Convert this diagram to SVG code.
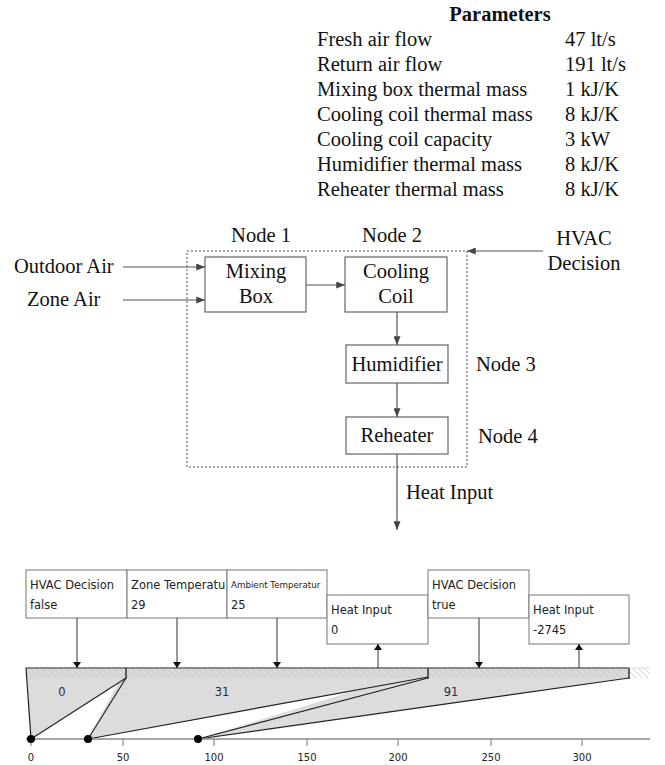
<svg xmlns="http://www.w3.org/2000/svg" width="665" height="765" viewBox="0 0 665 765">
<style>
.t{font-family:"Liberation Serif","Times New Roman",serif;font-size:20.5px;fill:#111}
.tb{font-family:"Liberation Serif","Times New Roman",serif;font-size:20.5px;font-weight:bold;fill:#111}
.box{fill:#fff;stroke:#666;stroke-width:1.2}
.flow{stroke:#555;stroke-width:1.2;fill:none}
.ev{fill:#fff;stroke:#777;stroke-width:1}
.s{font-family:"DejaVu Sans",Verdana,sans-serif;font-size:11.5px;fill:#222}
.ss{font-family:"DejaVu Sans",Verdana,sans-serif;font-size:8.7px;fill:#222}
.ax{font-family:"DejaVu Sans",Verdana,sans-serif;font-size:10px;fill:#222}
.lab{font-family:"DejaVu Sans",Verdana,sans-serif;font-size:11.5px;fill:#2a2a44}
.evl{stroke:#333;stroke-width:1;fill:none}
.tl{stroke:#222;stroke-width:1.2;fill:none}
.gray{fill:#dcdcdc;stroke:none}
</style>
<defs>
<marker id="ah" viewBox="0 0 10 8" refX="10" refY="4" markerWidth="9" markerHeight="7" orient="auto" markerUnits="userSpaceOnUse">
<path d="M0,0 L10,4 L0,8 z" fill="#444"/>
</marker>
<marker id="ah2" viewBox="0 0 6 8" refX="6" refY="4" markerWidth="6" markerHeight="8" orient="auto" markerUnits="userSpaceOnUse">
<path d="M0,0 L6,4 L0,8 z" fill="#111"/>
</marker>
<pattern id="hatch" patternUnits="userSpaceOnUse" width="6" height="6">
<rect width="6" height="6" fill="#d4d4d4"/>
<path d="M0,0 L6,6 M-1,5 L1,7 M5,-1 L7,1" stroke="#e4e4e4" stroke-width="1"/>
</pattern>
<pattern id="hatchw" patternUnits="userSpaceOnUse" width="6" height="6">
<rect width="6" height="6" fill="#fff"/>
<path d="M0,0 L6,6 M-1,5 L1,7 M5,-1 L7,1" stroke="#cfcfcf" stroke-width="1"/>
</pattern>
<clipPath id="c3"><rect x="227" y="570" width="99" height="48"/></clipPath>
</defs>

<g id="parameters">
<text class="tb" x="500" y="21" text-anchor="middle">Parameters</text>
<text class="t" x="317" y="46">Fresh air flow</text><text class="t" x="565" y="46">47 lt/s</text>
<text class="t" x="317" y="71">Return air flow</text><text class="t" x="565" y="71">191 lt/s</text>
<text class="t" x="317" y="96">Mixing box thermal mass</text><text class="t" x="565" y="96">1 kJ/K</text>
<text class="t" x="317" y="121">Cooling coil thermal mass</text><text class="t" x="565" y="121">8 kJ/K</text>
<text class="t" x="317" y="146">Cooling coil capacity</text><text class="t" x="565" y="146">3 kW</text>
<text class="t" x="317" y="171">Humidifier thermal mass</text><text class="t" x="565" y="171">8 kJ/K</text>
<text class="t" x="317" y="196">Reheater thermal mass</text><text class="t" x="565" y="196">8 kJ/K</text>
</g>

<g id="system-boundary">
<rect x="187" y="251" width="280" height="216" fill="none" stroke="#555" stroke-width="1" stroke-dasharray="2,2"/>
</g>

<g id="labels">
<text class="t" x="261" y="242" text-anchor="middle">Node 1</text>
<text class="t" x="392" y="242" text-anchor="middle">Node 2</text>
<text class="t" x="476" y="371">Node 3</text>
<text class="t" x="478" y="443">Node 4</text>
<text class="t" x="14" y="273">Outdoor Air</text>
<text class="t" x="27" y="306">Zone Air</text>
<text class="t" x="584" y="245" text-anchor="middle">HVAC</text>
<text class="t" x="584" y="270" text-anchor="middle">Decision</text>
<text class="t" x="406" y="499">Heat Input</text>
</g>

<g id="mixing-box">
<rect class="box" x="205" y="257" width="101" height="55"/>
<text class="t" x="256" y="278" text-anchor="middle">Mixing</text>
<text class="t" x="256" y="303" text-anchor="middle">Box</text>
</g>
<g id="cooling-coil">
<rect class="box" x="345" y="257" width="102" height="55"/>
<text class="t" x="396" y="278" text-anchor="middle">Cooling</text>
<text class="t" x="396" y="303" text-anchor="middle">Coil</text>
</g>
<g id="humidifier">
<rect class="box" x="346" y="345" width="102" height="38"/>
<text class="t" x="397" y="371" text-anchor="middle">Humidifier</text>
</g>
<g id="reheater">
<rect class="box" x="346" y="417" width="102" height="37"/>
<text class="t" x="397" y="442" text-anchor="middle">Reheater</text>
</g>

<g id="connectors">
<line class="flow" x1="123" y1="267" x2="205" y2="267" marker-end="url(#ah)"/>
<line class="flow" x1="123" y1="300" x2="205" y2="300" marker-end="url(#ah)"/>
<line class="flow" x1="306" y1="285" x2="345" y2="285" marker-end="url(#ah)"/>
<line class="flow" x1="397" y1="312" x2="397" y2="345" marker-end="url(#ah)"/>
<line class="flow" x1="397" y1="383" x2="397" y2="417" marker-end="url(#ah)"/>
<line class="flow" x1="397" y1="454" x2="397" y2="530" marker-end="url(#ah)"/>
<line class="flow" x1="543" y1="251" x2="467" y2="251" marker-end="url(#ah)"/>
</g>

<g id="timeline">
<polygon class="gray" points="26,668 126,668 126,678 31,739"/>
<polygon class="gray" points="126,668 428,668 428,678 88,739"/>
<polygon class="gray" points="428,668 629,668 629,678 198,739"/>
<rect x="26" y="668" width="603" height="10" fill="url(#hatch)"/>
<rect x="629" y="668" width="21" height="10" fill="url(#hatchw)"/>
<line x1="26" y1="668" x2="629" y2="668" stroke="#888" stroke-width="2"/>
<line x1="629" y1="668" x2="650" y2="668" stroke="#ddd" stroke-width="1"/>
<line class="tl" x1="26" y1="668" x2="31" y2="739"/>
<line class="tl" x1="31" y1="739" x2="126" y2="678"/>
<line class="tl" x1="88" y1="739" x2="126" y2="678"/>
<line class="tl" x1="88" y1="739" x2="428" y2="677"/>
<line class="tl" x1="198" y1="739" x2="428" y2="678"/>
<line class="tl" x1="198" y1="739" x2="629" y2="678"/>
<line x1="126" y1="668" x2="126" y2="679" stroke="#333" stroke-width="1.5"/>
<line x1="428" y1="668" x2="428" y2="679" stroke="#333" stroke-width="1.5"/>
<line x1="629" y1="668" x2="629" y2="679" stroke="#333" stroke-width="1.5"/>
<text class="lab" x="62" y="696" text-anchor="middle">0</text>
<text class="lab" x="222" y="696" text-anchor="middle">31</text>
<text class="lab" x="451" y="696" text-anchor="middle">91</text>
</g>

<g id="axis">
<line x1="26" y1="739" x2="650" y2="739" stroke="#888" stroke-width="1.5"/>
<g stroke="#888" stroke-width="1.2">
<line x1="31" y1="739" x2="31" y2="746"/>
<line x1="123" y1="739" x2="123" y2="746"/>
<line x1="214" y1="739" x2="214" y2="746"/>
<line x1="307" y1="739" x2="307" y2="746"/>
<line x1="398" y1="739" x2="398" y2="746"/>
<line x1="491" y1="739" x2="491" y2="746"/>
<line x1="582" y1="739" x2="582" y2="746"/>
</g>
<text class="ax" x="31" y="761" text-anchor="middle">0</text>
<text class="ax" x="123" y="761" text-anchor="middle">50</text>
<text class="ax" x="214" y="761" text-anchor="middle">100</text>
<text class="ax" x="307" y="761" text-anchor="middle">150</text>
<text class="ax" x="398" y="761" text-anchor="middle">200</text>
<text class="ax" x="491" y="761" text-anchor="middle">250</text>
<text class="ax" x="582" y="761" text-anchor="middle">300</text>
<circle cx="31" cy="739" r="4" fill="#000"/>
<circle cx="88" cy="739" r="4" fill="#000"/>
<circle cx="198" cy="739" r="4" fill="#000"/>
</g>

<g id="event-hvac-false">
<rect class="ev" x="26" y="570" width="101" height="48"/>
<text class="s" x="30" y="589">HVAC Decision</text>
<text class="s" x="30" y="609">false</text>
</g>
<g id="event-zone-temp">
<rect class="ev" x="127" y="570" width="100" height="48"/>
<text class="s" x="131" y="589">Zone Temperatu</text>
<text class="s" x="131" y="609">29</text>
</g>
<g id="event-ambient-temp">
<rect class="ev" x="227" y="570" width="100" height="48"/>
<text class="ss" x="231" y="588" clip-path="url(#c3)">Ambient Temperatur</text>
<text class="s" x="231" y="609">25</text>
</g>
<g id="event-heat-0">
<rect class="ev" x="327" y="595" width="101" height="49"/>
<text class="s" x="331" y="614">Heat Input</text>
<text class="s" x="331" y="634">0</text>
</g>
<g id="event-hvac-true">
<rect class="ev" x="428" y="570" width="101" height="48"/>
<text class="s" x="432" y="589">HVAC Decision</text>
<text class="s" x="432" y="609">true</text>
</g>
<g id="event-heat-2745">
<rect class="ev" x="529" y="595" width="100" height="49"/>
<text class="s" x="533" y="614">Heat Input</text>
<text class="s" x="533" y="634">-2745</text>
</g>

<g id="event-connectors">
<line class="evl" x1="77" y1="618" x2="77" y2="668" marker-end="url(#ah2)"/>
<line class="evl" x1="177" y1="618" x2="177" y2="668" marker-end="url(#ah2)"/>
<line class="evl" x1="277" y1="618" x2="277" y2="668" marker-end="url(#ah2)"/>
<line class="evl" x1="378" y1="668" x2="378" y2="644" marker-end="url(#ah2)"/>
<line class="evl" x1="479" y1="618" x2="479" y2="668" marker-end="url(#ah2)"/>
<line class="evl" x1="579" y1="668" x2="579" y2="644" marker-end="url(#ah2)"/>
</g>
</svg>
